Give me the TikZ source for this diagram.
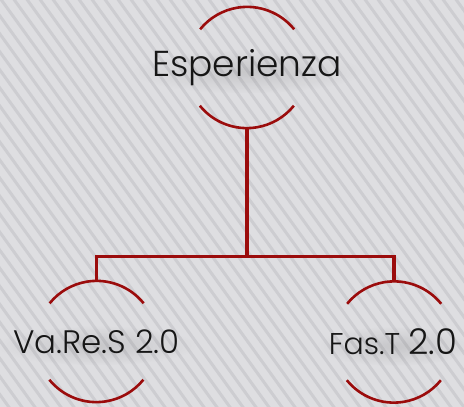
\documentclass[tikz,border=0pt]{standalone}
\usepackage{fontspec}
\usetikzlibrary{fadings}
\setmainfont{Poppins}[UprightFont=* Light]
\definecolor{bgc}{RGB}{222,222,225}
\definecolor{stripec}{RGB}{205,205,209}
\definecolor{linec}{RGB}{155,12,12}
\definecolor{txtc}{RGB}{22,22,22}
\tikzfading[name=softblob, inner color=transparent!0, outer color=transparent!100]
\tikzset{
  hub/.style={circle, minimum size=121pt, inner sep=0pt},
  arcline/.style={draw=linec, line width=2.6pt},
  conn/.style={draw=linec, line width=3.4pt},
  lbl/.style={text=txtc, inner sep=0pt},
  shade blob/.style={fill=black, opacity=0.10, path fading=softblob},
}
\begin{document}
\begin{tikzpicture}[x=1pt,y=1pt]
\useasboundingbox (0,0) rectangle (464,-407);
\fill[bgc] (0,0) rectangle (464,-407);
\begin{scope}
\clip (0,0) rectangle (464,-407);
\foreach \k in {-45,...,40}{
  \draw[stripec, line width=3pt] (\k*13,20) -- ++(310,-430);
}
\end{scope}
% hubs
\node[hub] (top) at (247,-67.5) {};
\node[hub] (left) at (96.5,-341.5) {};
\node[hub] (right) at (394,-342) {};
% soft text shadows
\fill[shade blob] ([yshift=-4pt]top.center) ellipse[x radius=115pt, y radius=22pt];
\fill[shade blob] ([yshift=-4pt]left.center) ellipse[x radius=100pt, y radius=20pt];
\fill[shade blob] ([yshift=-4pt]right.center) ellipse[x radius=78pt, y radius=20pt];
% arcs
\foreach \n in {top,left,right}{
  \draw[arcline] (\n.39) arc[start angle=39, end angle=141, radius=60.5pt];
  \draw[arcline] (\n.219) arc[start angle=219, end angle=321, radius=60.5pt];
}
% connectors
\coordinate (bus) at (247,-256);
\draw[conn] (top.south) -- (bus);
\draw[conn] (left.north) -- ++(0,24.5) -| (right.north);
% texts
\node[lbl] (t1) at (top.center) {\fontsize{36}{42}\selectfont Esperienza};
\node[lbl] (t2) at (left.center) {\fontsize{32.5}{38}\selectfont Va.Re.S 2.0};
\node[lbl] (t3) at ([xshift=-1pt]right.center) {\fontsize{30}{36}\selectfont Fas.T {\fontsize{35.5}{40}\selectfont 2.0}};
\end{tikzpicture}
\end{document}
